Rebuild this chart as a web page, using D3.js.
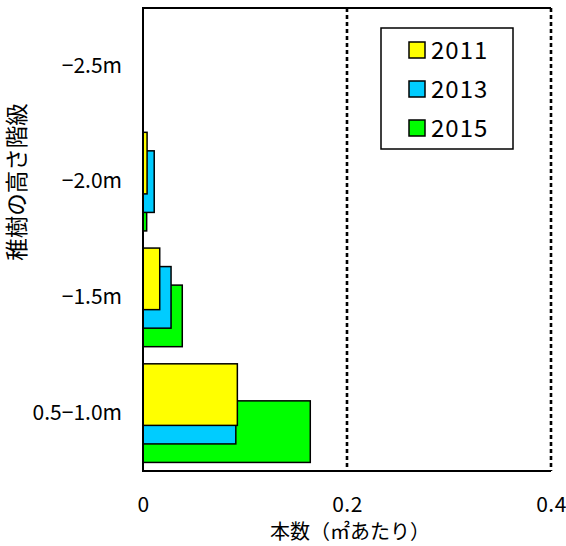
<!DOCTYPE html>
<html>
<head>
<meta charset="utf-8">
<script src="https://cdn.jsdelivr.net/npm/d3@7"></script>
<style>
  html, body { margin: 0; padding: 0; background: #fff; }
  svg text { font-family: "Noto Sans CJK JP", "Noto Sans", sans-serif; fill: #000; }
</style>
</head>
<body>
<div id="chart"></div>
<script>
// height classes, bottom to top
const categories = ['0.5−1.0m', '−1.5m', '−2.0m', '−2.5m'];
const series = ['2011', '2013', '2015'];
const values2011 = [0.0925, 0.0164, 0.0040, 0];
const values2013 = [0.0910, 0.0275, 0.0110, 0];
const values2015 = [0.1640, 0.0385, 0.0036, 0];
const xTicks = [0, 0.2, 0.4];
const xTickLabels = ['0', '0.2', '0.4'];
const colors = ['#FFFF00', '#00CCFF', '#00FF00'];

const seriesValues = { '2011': values2011, '2013': values2013, '2015': values2015 };

const W = 566, H = 546, M = { t: 8, r: 15, b: 75, l: 143 };
const svg = d3.select('#chart').append('svg').attr('width', W).attr('height', H);

const x = d3.scaleLinear().domain([0, 0.4]).range([M.l, W - M.r]);
const y = d3.scaleBand().domain(categories).range([H - M.b, M.t]).padding(0);
const color = d3.scaleOrdinal().domain(series).range(colors);

// excel-style overlapping bars: each bar ~53% of band, shifted 16% per series
const barH = y.bandwidth() * 0.532;
const off = d3.scalePoint().domain(series).range([-y.bandwidth() * 0.16, y.bandwidth() * 0.16]);

const rows = [];
series.forEach(s => categories.forEach((c, i) => rows.push({ s, c, v: seriesValues[s][i] })));

// later series drawn first so 2011 sits on top
const drawOrder = series.slice().reverse();
drawOrder.forEach(s => {
  svg.append('g').selectAll('rect').data(rows.filter(d => d.s === s && d.v > 0)).enter().append('rect')
    .attr('x', x(0))
    .attr('y', d => y(d.c) + y.bandwidth() / 2 + off(d.s) - barH / 2)
    .attr('width', d => x(d.v) - x(0))
    .attr('height', barH)
    .attr('fill', color(s))
    .attr('stroke', '#000').attr('stroke-width', 1.5);
});

// dotted gridlines
svg.append('g').selectAll('line').data(xTicks.filter(t => t > 0)).enter().append('line')
  .attr('x1', d => x(d)).attr('x2', d => x(d))
  .attr('y1', M.t).attr('y2', H - M.b)
  .attr('stroke', '#000').attr('stroke-width', 2.6).attr('stroke-dasharray', '4,3');

// frame: top, left, bottom solid
svg.append('path')
  .attr('d', `M${x(0.4)},${M.t}H${x(0)}V${H - M.b}H${x(0.4)}`)
  .attr('fill', 'none').attr('stroke', '#000').attr('stroke-width', 2);

const xa = svg.append('g').attr('transform', `translate(0,${H - M.b})`)
  .call(d3.axisBottom(x).tickValues(xTicks).tickFormat((d, i) => xTickLabels[i]).tickSize(0).tickPadding(26));
xa.select('.domain').remove();
xa.selectAll('text').style('font-size', '21px').style('letter-spacing', '0.5px')
  .style('font-family', '"Noto Sans CJK JP", sans-serif');

const ya = svg.append('g').attr('transform', `translate(${M.l},0)`)
  .call(d3.axisLeft(y).tickSize(0).tickPadding(21));
ya.select('.domain').remove();
ya.selectAll('text').style('font-size', '21px').style('font-family', '"Noto Sans CJK JP", sans-serif');

svg.append('text').attr('x', 350).attr('y', 539).attr('text-anchor', 'middle')
  .style('font-size', '20px').text('本数（㎡あたり）');

svg.append('text').attr('transform', 'translate(25,182) rotate(-90)').attr('text-anchor', 'middle')
  .style('font-size', '22.5px').text('稚樹の高さ階級');

// legend
const lg = svg.append('g');
lg.append('rect').attr('x', 381).attr('y', 28).attr('width', 132).attr('height', 121)
  .attr('fill', '#fff').attr('stroke', '#000').attr('stroke-width', 1.5);
const li = lg.selectAll('g.item').data(series).enter().append('g')
  .attr('transform', (d, i) => `translate(409,${50 + i * 39})`);
li.append('rect').attr('x', 0).attr('y', -8).attr('width', 16).attr('height', 16)
  .attr('fill', d => color(d)).attr('stroke', '#000').attr('stroke-width', 1.5);
li.append('text').attr('x', 22).attr('dy', '0.36em').style('font-size', '24px')
  .style('letter-spacing', '1px').text(d => d);
</script>
</body>
</html>
